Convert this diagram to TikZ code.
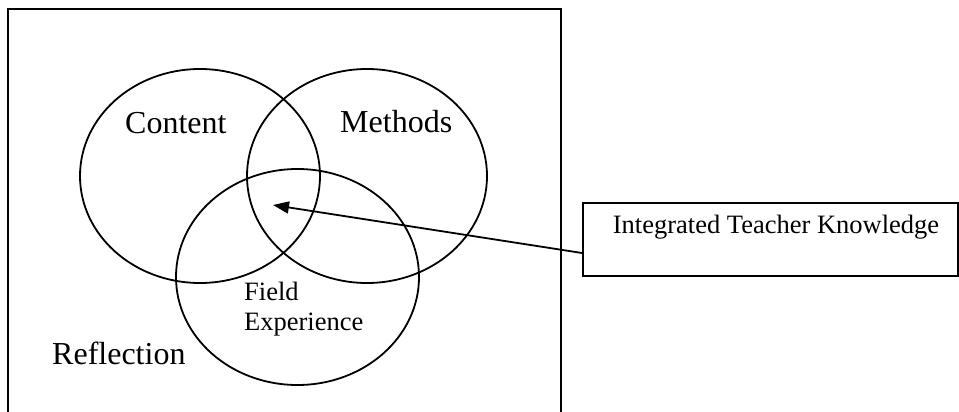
\documentclass[tikz,border=0pt]{standalone}
\usepackage{fontspec}
\setmainfont{Liberation Serif}
\usetikzlibrary{shapes.geometric,arrows.meta,calc}
\begin{document}
\begin{tikzpicture}[x=1pt,y=-1pt,
  venn/.style={draw, ellipse, line width=1.8pt, inner sep=0pt},
  bigtext/.style={font=\fontsize{32}{36}\selectfont, anchor=base west, inner sep=0pt},
  smalltext/.style={font=\fontsize{26.5}{30}\selectfont, anchor=base west, inner sep=0pt},
  frame/.style={line width=2.2pt},
  conn/.style={line width=1.8pt, -{Triangle[length=16pt,width=12pt]}}]
\useasboundingbox (0,0) rectangle (959,412);
% outer frame (bottom cut off)
\draw[frame] (8,420) -- (8,9) -- (561,9) -- (561,420);
% circles
\node[venn, minimum width=240pt, minimum height=214pt] (content) at (200,176) {};
\node[venn, minimum width=240pt, minimum height=214pt] (methods) at (367,176) {};
\node[venn, minimum width=243pt, minimum height=216pt] (field) at (297.5,277) {};
% labels
\node[bigtext] (lcontent) at (125,133) {Content};
\node[bigtext] (lmethods) at (340,132) {Methods};
\node[bigtext] (lrefl) at (52,364) {Reflection};
\node[smalltext] (lfield1) at (244,300) {Field};
\node[smalltext] (lfield2) at (244,330) {Experience};
% knowledge box
\node[draw, line width=2pt, inner sep=0pt, minimum width=375pt, minimum height=73pt,
      text height=30pt, text depth=43pt, font=\fontsize{26.5}{30}\selectfont]
      (itk) at (770.5,239.5) {\hspace*{11pt}Integrated Teacher Knowledge};
\coordinate (itkin) at ($(itk.west)+(0,13.5)$);
\coordinate (tip) at (273,205);
\draw[conn] (itkin) -- (tip);
\end{tikzpicture}
\end{document}
